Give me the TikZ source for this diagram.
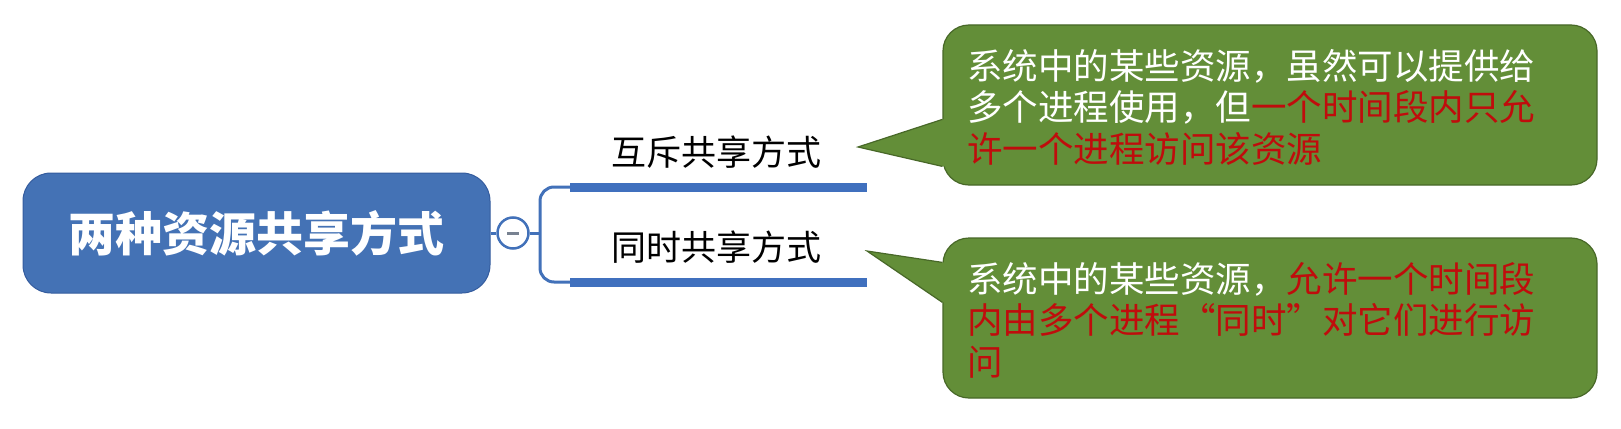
\documentclass[tikz,border=0pt]{standalone}
\usepackage{fontspec}
\setmainfont{Noto Sans CJK SC}
\usetikzlibrary{calc}
\definecolor{rootblue}{RGB}{68,114,181}
\definecolor{rootedge}{RGB}{52,92,158}
\definecolor{linkblue}{RGB}{66,113,185}
\definecolor{barblue}{RGB}{64,112,190}
\definecolor{calloutgreen}{RGB}{99,142,56}
\definecolor{calloutedge}{RGB}{72,104,40}
\definecolor{hired}{RGB}{192,12,12}
\definecolor{minusgray}{RGB}{120,130,145}
\newcommand{\hl}[1]{\textcolor{hired}{#1}}
\newcommand{\openq}{\makebox[1em][r]{“}}
\newcommand{\closeq}{\makebox[1em][l]{”}}
\begin{document}
\begin{tikzpicture}[x=1pt,y=-1pt,
  rootbox/.style={draw=rootedge, line width=1pt, fill=rootblue, rounded corners=28pt,
    minimum width=467pt, minimum height=120pt, inner sep=0pt, text=white,
    font=\fontsize{47pt}{56pt}\selectfont\bfseries},
  toggle/.style={circle, draw=linkblue, line width=2.5pt, fill=white, minimum size=31pt, inner sep=0pt},
  link/.style={draw=linkblue, line width=3pt},
  bar/.style={draw=barblue, line width=9pt},
  branchlabel/.style={font=\fontsize{35pt}{40pt}\selectfont, text=black, inner sep=0pt},
  calloutbox/.style={draw=calloutedge, line width=1.2pt, fill=calloutgreen, rounded corners=26pt,
    minimum width=654pt, minimum height=160pt, inner sep=0pt},
  callouttext/.style={font=\fontsize{35.5pt}{41.5pt}\selectfont, text=white, align=left,
    inner sep=0pt, anchor=west},
]
\useasboundingbox[fill=white] (0,0) rectangle (1621,428);

% root and toggle
\node[rootbox] (root) at (256.5,233) {两种资源共享方式};
\node[toggle] (tog) at (513,233) {};
\draw[minusgray, line width=3pt] ($(tog.center)+(-6,0)$) -- ($(tog.center)+(6,0)$);
\draw[link] (root.east) -- (tog.west);

% bracket and bars
\coordinate (fork) at (540,233);
\coordinate (b1s) at (570,187); \coordinate (b1e) at (867,187);
\coordinate (b2s) at (570,282); \coordinate (b2e) at (867,282);
\draw[link] (tog.east) -- (fork);
\draw[link, rounded corners=14pt] (b1s) -| (fork) |- (b2s);
\draw[bar] (b1s) -- (b1e);
\draw[bar] (b2s) -- (b2e);

% branch labels
\node[branchlabel] (l1) at (716,152) {互斥共享方式};
\node[branchlabel] (l2) at (716,247) {同时共享方式};

% callout 1
\node[calloutbox] (c1) at (1270,105) {};
\coordinate (p1) at (858,147);
\fill[calloutgreen] (p1) -- ($(c1.north west)+(0,95)$) -- ($(c1.north west)+(5,95)$)
  -- ($(c1.north west)+(5,142)$) -- ($(c1.north west)+(0,142)$) -- cycle;
\draw[calloutedge, line width=1.2pt] ($(c1.north west)+(0,95)$) -- (p1) -- ($(c1.north west)+(0,142)$);
\node[callouttext] (c1txt) at (967,107)
  {系统中的某些资源，虽然可以提供给\\多个进程使用，但\hl{一个时间段内只允}\\\hl{许一个进程访问该资源}};

% callout 2
\node[calloutbox] (c2) at (1270,318) {};
\coordinate (p2) at (867,251);
\fill[calloutgreen] (p2) -- ($(c2.north west)+(0,25)$) -- ($(c2.north west)+(5,25)$)
  -- ($(c2.north west)+(5,65)$) -- ($(c2.north west)+(0,65)$) -- cycle;
\draw[calloutedge, line width=1.2pt] ($(c2.north west)+(0,25)$) -- (p2) -- ($(c2.north west)+(0,65)$);
\node[callouttext] (c2txt) at (967,320)
  {系统中的某些资源，\hl{允许一个时间段}\\\hl{内由多个进程\openq 同时\closeq 对它们进行访}\\\hl{问}};
\end{tikzpicture}
\end{document}
